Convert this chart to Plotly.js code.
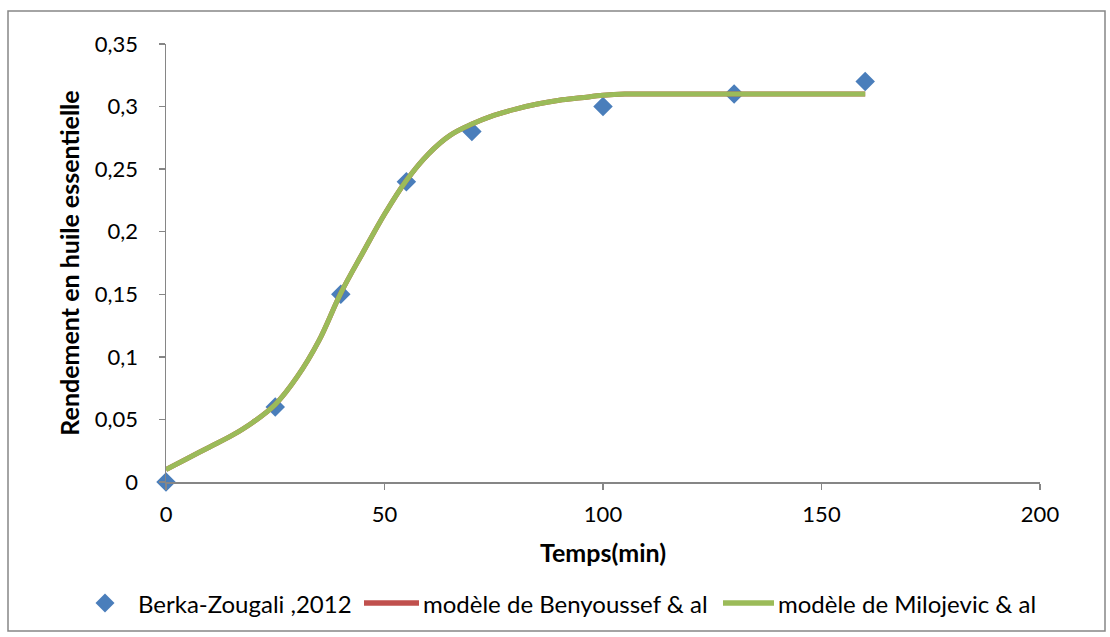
<!DOCTYPE html>
<html>
<head>
<meta charset="utf-8">
<script src="https://cdn.plot.ly/plotly-3.0.1.min.js"></script>
<style>
  html, body { margin: 0; padding: 0; background: #ffffff; }
  #chart { width: 1110px; height: 637px; }
</style>
</head>
<body>
<div id="chart"></div>
<script>
// Experimental yield of essential oil versus extraction time
const expTime = [0, 25, 40, 55, 70, 100, 130, 160];
const expYield = [0, 0.06, 0.15, 0.24, 0.28, 0.30, 0.31, 0.32];

// Kinetic model curves (time in minutes)
const modelTime = [0, 5, 10, 15, 20, 25, 30, 35, 40, 45, 50, 55, 60, 65, 70, 75, 80,
  85, 90, 95, 100, 105, 110, 115, 120, 125, 130, 135, 140, 145, 150, 155, 160];
const benyoussefYield = [0.010, 0.019, 0.028, 0.037, 0.048, 0.062, 0.084, 0.113, 0.151,
  0.183, 0.214, 0.241, 0.262, 0.277, 0.286, 0.293, 0.298, 0.302, 0.305, 0.307, 0.309,
  0.310, 0.310, 0.310, 0.310, 0.310, 0.310, 0.310, 0.310, 0.310, 0.310, 0.310, 0.310];
const milojevicYield = [0.010, 0.019, 0.028, 0.037, 0.048, 0.062, 0.084, 0.113, 0.151,
  0.183, 0.214, 0.241, 0.262, 0.277, 0.286, 0.293, 0.298, 0.302, 0.305, 0.307, 0.309,
  0.310, 0.310, 0.310, 0.310, 0.310, 0.310, 0.310, 0.310, 0.310, 0.310, 0.310, 0.310];

const seriesNames = ['Berka-Zougali ,2012', 'modèle de Benyoussef & al', 'modèle de Milojevic & al'];
const seriesColors = ['#4A7EBB', '#C0504D', '#9BBB59'];

const xTickVals = [0, 50, 100, 150, 200];
const xTickText = ['0', '50', '100', '150', '200'];
const yTickVals = [0, 0.05, 0.1, 0.15, 0.2, 0.25, 0.3, 0.35];
const yTickText = ['0', '0,05', '0,1', '0,15', '0,2', '0,25', '0,3', '0,35'];

const FONT = 'Lato, "Open Sans", sans-serif';
const axisGrey = '#868686';

const traces = [
  {
    x: expTime, y: expYield, name: seriesNames[0],
    type: 'scatter', mode: 'markers', cliponaxis: false,
    marker: { symbol: 'diamond', size: 15, color: seriesColors[0] }
  },
  {
    x: modelTime, y: benyoussefYield, name: seriesNames[1],
    type: 'scatter', mode: 'lines',
    line: { color: seriesColors[1], width: 5, shape: 'spline', smoothing: 1 }
  },
  {
    x: modelTime, y: milojevicYield, name: seriesNames[2],
    type: 'scatter', mode: 'lines',
    line: { color: seriesColors[2], width: 5, shape: 'spline', smoothing: 1 }
  }
];

// Bottom legend row, laid out in paper coordinates (plot area is 874 x 438 px)
const plotW = 874, plotH = 438;
const px = v => (v - 166) / plotW;     // page x -> paper x
const py = v => (482 - v) / plotH;     // page y -> paper y
const legendY = py(603);
const dHalfX = 9.5 / plotW, dHalfY = 9.5 / plotH;
const diamondX = px(105);

const legendShapes = [
  {
    type: 'path', xref: 'paper', yref: 'paper',
    path: `M ${diamondX - dHalfX} ${legendY} L ${diamondX} ${legendY + dHalfY} ` +
          `L ${diamondX + dHalfX} ${legendY} L ${diamondX} ${legendY - dHalfY} Z`,
    fillcolor: seriesColors[0], line: { width: 0 }
  },
  {
    type: 'line', xref: 'paper', yref: 'paper',
    x0: px(364), x1: px(419), y0: legendY, y1: legendY,
    line: { color: seriesColors[1], width: 5.5 }
  },
  {
    type: 'line', xref: 'paper', yref: 'paper',
    x0: px(723), x1: px(774), y0: legendY, y1: legendY,
    line: { color: seriesColors[2], width: 5.5 }
  }
];

const legendTextX = [px(136), px(421), px(776)];
const legendAnnotations = seriesNames.map((name, i) => ({
  xref: 'paper', yref: 'paper', x: legendTextX[i], y: legendY,
  xanchor: 'left', yanchor: 'middle', showarrow: false,
  text: name, font: { family: FONT, size: 24, color: '#000000' }
}));

const layout = {
  width: 1110, height: 637,
  margin: { l: 166, r: 70, t: 44, b: 155 },
  paper_bgcolor: '#ffffff', plot_bgcolor: '#ffffff',
  font: { family: FONT, size: 22, color: '#000000' },
  showlegend: false,
  xaxis: {
    range: [0, 200], tickvals: xTickVals, ticktext: xTickText,
    showgrid: false, zeroline: false,
    showline: true, linecolor: axisGrey, linewidth: 1.5,
    ticks: 'outside', ticklen: 6, tickcolor: axisGrey, tickwidth: 1.5,
    ticklabelstandoff: 6,
    tickfont: { family: FONT, size: 22 },
    title: { text: '<b>Temps(min)</b>', font: { family: FONT, size: 25 }, standoff: 18 }
  },
  yaxis: {
    range: [0, 0.35], tickvals: yTickVals, ticktext: yTickText,
    showgrid: false, zeroline: false,
    showline: true, linecolor: axisGrey, linewidth: 1.5,
    ticks: 'outside', ticklen: 6, tickcolor: axisGrey, tickwidth: 1.5,
    ticklabelstandoff: 16,
    tickfont: { family: FONT, size: 22 },
    title: { text: '<b>Rendement en huile essentielle</b>', font: { family: FONT, size: 25 }, standoff: 8 }
  },
  annotations: legendAnnotations,
  shapes: [
    {
      type: 'rect', xref: 'paper', yref: 'paper',
      x0: px(8), x1: px(1105), y0: py(631), y1: py(11),
      line: { color: '#868686', width: 1.5 }, fillcolor: 'rgba(0,0,0,0)', layer: 'below'
    }
  ].concat(legendShapes)
};

Plotly.newPlot('chart', traces, layout, { displayModeBar: false, staticPlot: true });
</script>
</body>
</html>
